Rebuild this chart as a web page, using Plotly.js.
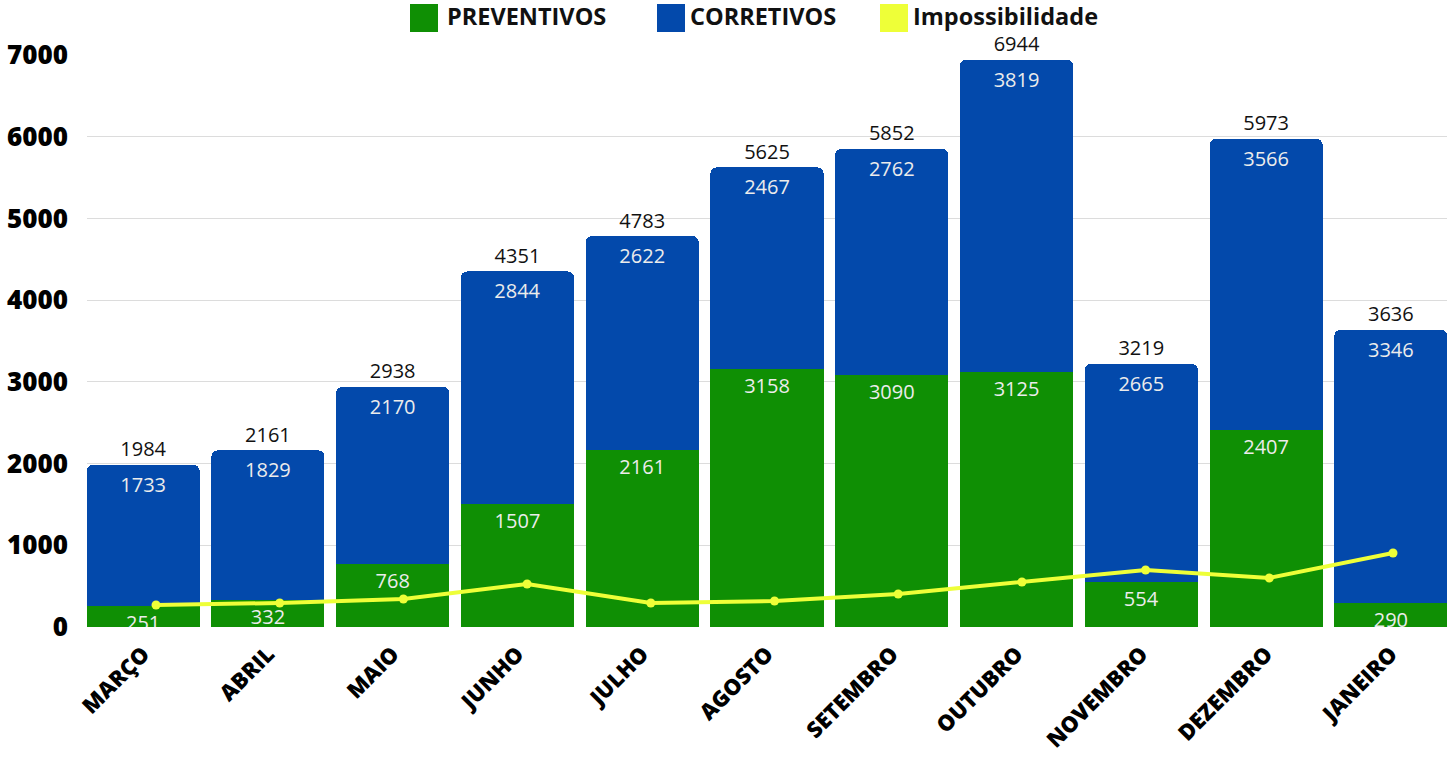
<!DOCTYPE html>
<html>
<head>
<meta charset="utf-8">
<script src="https://cdn.plot.ly/plotly-3.0.1.min.js"></script>
<style>
html,body{margin:0;padding:0;background:#fff;}
#chart{width:1455px;height:758px;}
</style>
</head>
<body>
<div id="chart"></div>
<script>
const months = ["MARÇO","ABRIL","MAIO","JUNHO","JULHO","AGOSTO","SETEMBRO","OUTUBRO","NOVEMBRO","DEZEMBRO","JANEIRO"];
const preventivos = [251,332,768,1507,2161,3158,3090,3125,554,2407,290];
const corretivos = [1733,1829,2170,2844,2622,2467,2762,3819,2665,3566,3346];
const impossibilidade = [269,294,343,526,294,318,404,551,698,600,906];
const legendNames = ["PREVENTIVOS","CORRETIVOS","Impossibilidade"];
const yTicks = [0,1000,2000,3000,4000,5000,6000,7000];

const totals = preventivos.map((v,i)=>v+corretivos[i]);

const GREEN = "#0f8f04";
const BLUE = "#0349ab";
const YELLOW = "#eeff38";
const LABEL_FONT = {family:"Open Sans, Noto Sans, sans-serif", size:20, color:"#ececec"};

const traces = [
  {type:"bar", name:legendNames[0], x:months, y:preventivos, marker:{color:GREEN},
   text:preventivos.map(String), textposition:"inside", insidetextanchor:"end",
   textangle:0, constraintext:"none", insidetextfont:LABEL_FONT, hoverinfo:"x+y+name", showlegend:false},
  {type:"bar", name:legendNames[1], x:months, y:corretivos, marker:{color:BLUE},
   text:corretivos.map(String), textposition:"inside", insidetextanchor:"end",
   textangle:0, constraintext:"none", insidetextfont:LABEL_FONT, hoverinfo:"x+y+name", showlegend:false},
  {type:"scatter", mode:"lines+markers", name:legendNames[2], x:months, y:impossibilidade,
   xaxis:"x2", line:{color:YELLOW, width:4}, marker:{color:YELLOW, size:9}, showlegend:false},
  {type:"scatter", mode:"markers+text", x:months, y:totals, text:totals.map(String),
   marker:{size:4, opacity:0},
   textposition:"top center", cliponaxis:false, hoverinfo:"skip", showlegend:false,
   textfont:{family:"Open Sans, Noto Sans, sans-serif", size:20, color:"#111"}}
];

// custom legend (large square swatches like the reference)
const legendItems = [
  {x0:410, text:legendNames[0], color:GREEN, tx:445},
  {x0:657, text:legendNames[1], color:BLUE, tx:688},
  {x0:880, text:legendNames[2], color:YELLOW, tx:911}
];
const shapes = legendItems.map(it=>({
  type:"rect", xref:"paper", yref:"paper",
  x0:(it.x0-87)/1360, x1:(it.x0+28-87)/1360,
  y0:(627-4)/572, y1:(627-32)/572,
  fillcolor:it.color, line:{width:0}
}));
const annotations = legendItems.map(it=>({
  xref:"paper", yref:"paper", x:(it.tx-87)/1360, y:(627-16)/572,
  xanchor:"left", yanchor:"middle", showarrow:false, text:"<b>"+it.text+"</b>",
  font:{family:"Open Sans, sans-serif", size:23.5, color:"#111", weight:800}
}));

const layout = {
  width:1455, height:758,
  margin:{l:87, r:8, t:55, b:131},
  paper_bgcolor:"#fff", plot_bgcolor:"#fff",
  barmode:"stack", bargap:0.094, barcornerradius:6,
  showlegend:false,
  xaxis:{type:"category", range:[-0.45,10.45], tickangle:-45, showgrid:false,
    ticks:"", showline:false, zeroline:false, ticklabelstandoff:9,
    tickfont:{family:"Open Sans, sans-serif", size:22, color:"#000", weight:800}},
  xaxis2:{type:"category", overlaying:"x", range:[-0.558,10.4365], visible:false,
    showgrid:false, zeroline:false},
  yaxis:{range:[0,7000], tickvals:yTicks, ticktext:yTicks.map(String), gridcolor:"#dcdcdc",
    zeroline:false, showline:false, ticks:"", ticklabelstandoff:18,
    tickfont:{family:"Open Sans, sans-serif", size:26, color:"#000", weight:800}},
  shapes:shapes, annotations:annotations,
  font:{family:"Open Sans, sans-serif"}
};

Plotly.newPlot("chart", traces, layout, {displayModeBar:false, staticPlot:true});
</script>
</body>
</html>
